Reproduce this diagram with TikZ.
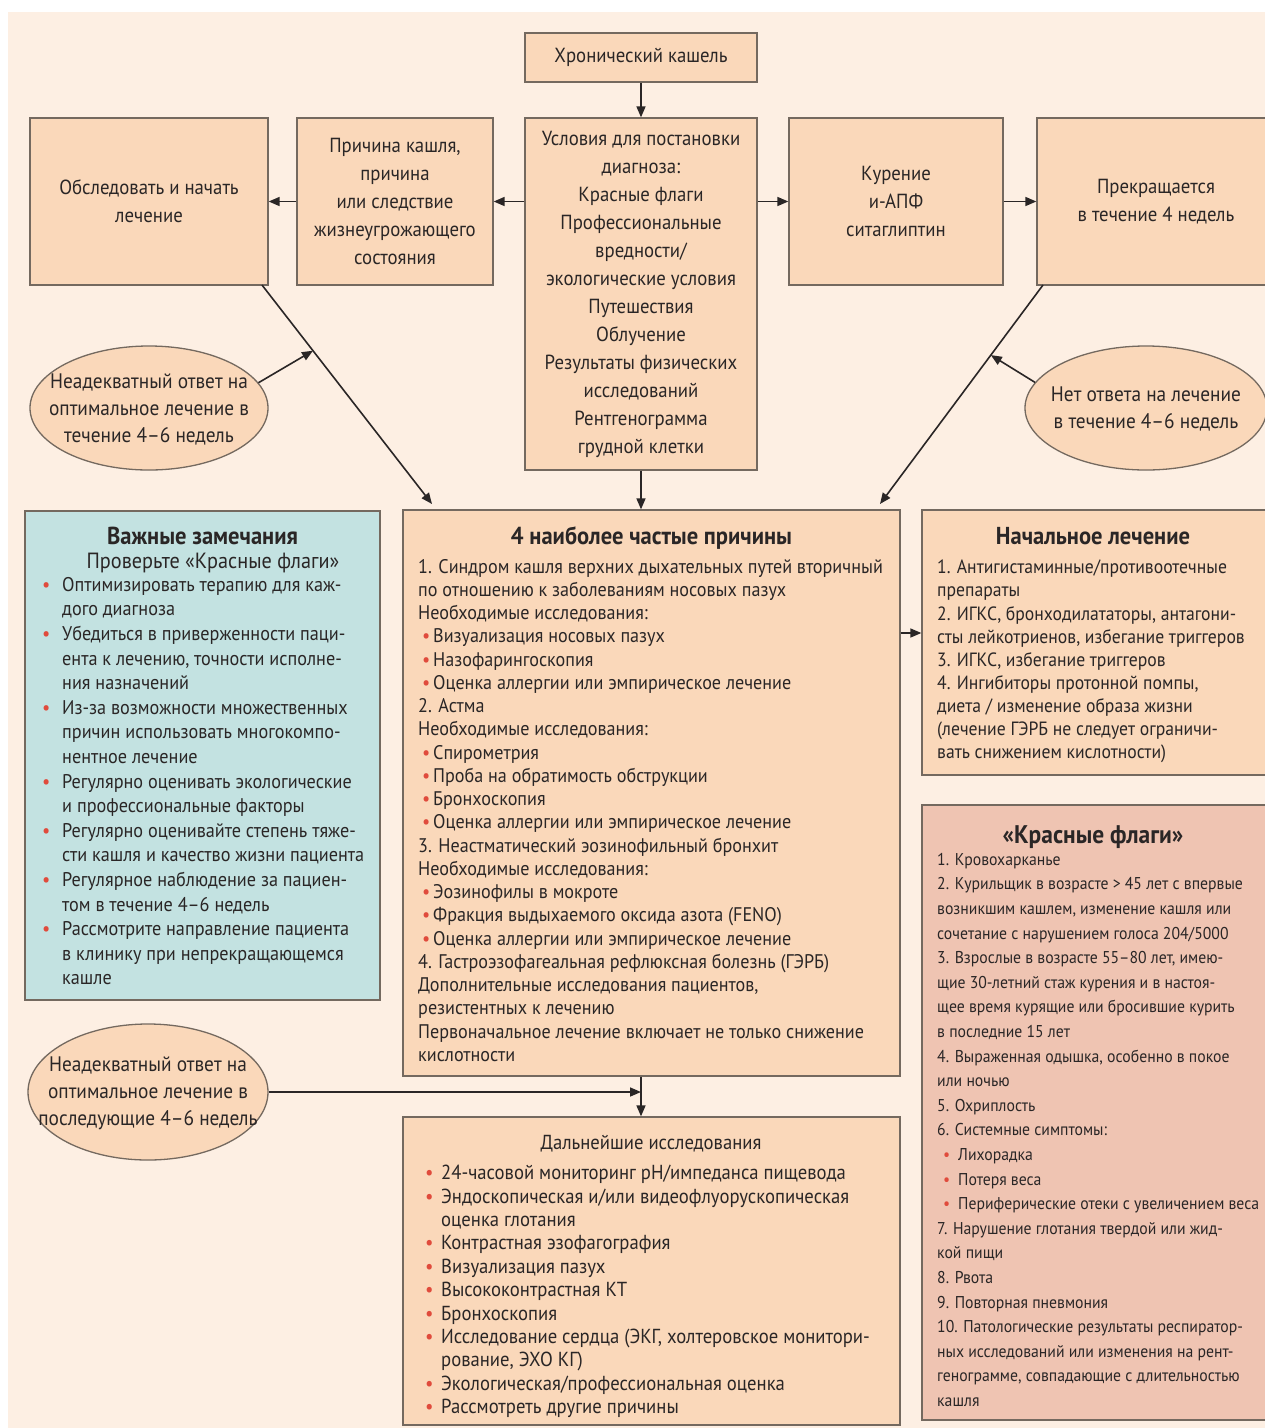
\documentclass[tikz,border=0pt]{standalone}
\usepackage{fontspec}
\setmainfont{PT Sans}[FakeStretch=0.92]
\usetikzlibrary{shapes.geometric,arrows.meta,calc}
\definecolor{bgc}{HTML}{FDEFE3}
\definecolor{boxfill}{HTML}{FAD8BA}
\definecolor{tealbox}{HTML}{C3E2E1}
\definecolor{pinkbox}{HTML}{EFC4B2}
\definecolor{edgec}{HTML}{74695F}
\definecolor{ink}{HTML}{2A2626}
\definecolor{bulred}{HTML}{E04B3C}
\newcommand{\redbul}[2]{\makebox[#1][l]{\hspace{#2}\textcolor{bulred}{•}}}
\newcommand{\indbox}[1]{\makebox[#1][l]{}}
\begin{document}
\begin{tikzpicture}[x=1pt,y=-1pt,
  box/.style={draw=edgec, line width=1.3pt, fill=boxfill, rectangle, inner sep=0pt, text=ink},
  ell/.style={draw=edgec, line width=1.3pt, fill=boxfill, ellipse, inner sep=0pt},
  elltext/.style={inner sep=0pt, text=ink, align=center, font=\fontsize{21}{27}\selectfont},
  topfont/.style={font=\fontsize{20.4}{28}\selectfont, align=center},
  body/.style={inner sep=0pt, anchor=north west, align=left, text=ink},
  ttl/.style={inner sep=0pt, anchor=base, text=ink, font=\fontsize{24.5}{26}\selectfont\bfseries},
  arr/.style={draw=ink, line width=1.6pt, -{Triangle[length=11pt,width=9pt]}}]
\useasboundingbox (0,0) rectangle (1265,1428);
\fill[bgc] (8,12) rectangle (1270,1430);
% top row
\node[box, topfont, minimum width=232pt, minimum height=49pt] (hk) at (641,57.5) {Хронический кашель};
\node[box, topfont, minimum width=238pt, minimum height=167pt] (obsl) at (149,201.5) {Обследовать и начать\\лечение};
\node[box, topfont, minimum width=196pt, minimum height=167pt] (prich) at (395,201.5) {Причина кашля,\\причина\\или следствие\\жизнеугрожающего\\состояния};
\node[box, topfont, minimum width=232pt, minimum height=352pt] (usl) at (641,294) {Условия для постановки\\диагноза:\\Красные флаги\\Профессиональные\\вредности/\\экологические условия\\Путешествия\\Облучение\\Результаты физических\\исследований\\Рентгенограмма\\грудной клетки};
\node[box, topfont, minimum width=214pt, minimum height=167pt] (kur) at (896,201.5) {Курение\\и-АПФ\\ситаглиптин};
\node[box, topfont, minimum width=238pt, minimum height=167pt] (prek) at (1156,201.5) {Прекращается\\в течение 4 недель};
% ellipses
\node[ell, minimum width=238pt, minimum height=124pt] (el1) at (149,408) {};
\node[elltext] (el1t) at (149,409) {Неадекватный ответ на\\оптимальное лечение в\\течение 4–6 недель};
\node[ell, minimum width=242pt, minimum height=124pt] (el2) at (1146,408) {};
\node[elltext] (el2t) at (1146,409) {Нет ответа на лечение\\в течение 4–6 недель};
\node[ell, minimum width=240pt, minimum height=136pt] (el3) at (148,1092) {};
\node[elltext] (el3t) at (148,1093) {Неадекватный ответ на\\оптимальное лечение в\\последующие 4–6 недель};
% big boxes
\node[box, fill=tealbox, minimum width=355pt, minimum height=489pt] (vazh) at (202.5,755.5) {};
\node[box, minimum width=497pt, minimum height=566pt] (p4) at (651.5,793) {};
\node[box, minimum width=346pt, minimum height=265pt] (nach) at (1095,642.5) {};
\node[box, fill=pinkbox, minimum width=346pt, minimum height=615pt] (flags) at (1095,1112.5) {};
\node[box, minimum width=497pt, minimum height=308pt] (dal) at (651.5,1271) {};
% Важные замечания
\node[ttl] (vazhT) at (202.5,544) {Важные замечания};
\node[inner sep=0pt, anchor=base, text=ink, font=\fontsize{22}{24}\selectfont] (vazhS) at (213,568) {Проверьте «Красные флаги»};
\node[body, font=\fontsize{19.8}{24.6}\selectfont] (vazhB) at (38,577) {%
\redbul{24pt}{4pt}Оптимизировать терапию для каж-\\
\indbox{24pt}дого диагноза\\
\redbul{24pt}{4pt}Убедиться в приверженности паци-\\
\indbox{24pt}ента к лечению, точности исполне-\\
\indbox{24pt}ния назначений\\
\redbul{24pt}{4pt}Из-за возможности множественных\\
\indbox{24pt}причин использовать многокомпо-\\
\indbox{24pt}нентное лечение\\
\redbul{24pt}{4pt}Регулярно оценивать экологические\\
\indbox{24pt}и профессиональные факторы\\
\redbul{24pt}{4pt}Регулярно оценивайте степень тяже-\\
\indbox{24pt}сти кашля и качество жизни пациента\\
\redbul{24pt}{4pt}Регулярное наблюдение за пациен-\\
\indbox{24pt}том в течение 4–6 недель\\
\redbul{24pt}{4pt}Рассмотрите направление пациента\\
\indbox{24pt}в клинику при непрекращающемся\\
\indbox{24pt}кашле};
% 4 наиболее частые причины
\node[ttl] (p4T) at (651.5,544) {4 наиболее частые причины};
\node[body, font=\fontsize{19.7}{23.24}\selectfont] (p4B) at (418,559) {%
1. Синдром кашля верхних дыхательных путей вторичный\\
по отношению к заболеваниям носовых пазух\\
Необходимые исследования:\\
\redbul{15pt}{4pt}Визуализация носовых пазух\\
\redbul{15pt}{4pt}Назофарингоскопия\\
\redbul{15pt}{4pt}Оценка аллергии или эмпирическое лечение\\
2. Астма\\
Необходимые исследования:\\
\redbul{15pt}{4pt}Спирометрия\\
\redbul{15pt}{4pt}Проба на обратимость обструкции\\
\redbul{15pt}{4pt}Бронхоскопия\\
\redbul{15pt}{4pt}Оценка аллергии или эмпирическое лечение\\
3. Неастматический эозинофильный бронхит\\
Необходимые исследования:\\
\redbul{15pt}{4pt}Эозинофилы в мокроте\\
\redbul{15pt}{4pt}Фракция выдыхаемого оксида азота (FENO)\\
\redbul{15pt}{4pt}Оценка аллергии или эмпирическое лечение\\
4. Гастроэзофагеальная рефлюксная болезнь (ГЭРБ)\\
Дополнительные исследования пациентов,\\
резистентных к лечению\\
Первоначальное лечение включает не только снижение\\
кислотности};
% Начальное лечение
\node[ttl] (nachT) at (1093,544) {Начальное лечение};
\node[body, font=\fontsize{19.2}{23.1}\selectfont] (nachB) at (937,560) {%
1. Антигистаминные/противоотечные\\
препараты\\
2. ИГКС, бронходилататоры, антагони-\\
сты лейкотриенов, избегание триггеров\\
3. ИГКС, избегание триггеров\\
4. Ингибиторы протонной помпы,\\
диета / изменение образа жизни\\
(лечение ГЭРБ не следует ограничи-\\
вать снижением кислотности)};
% Красные флаги
\node[ttl, font=\fontsize{25.5}{26}\selectfont\bfseries] (flagsT) at (1093,843) {«Красные флаги»};
\node[body, font=\fontsize{17.1}{24.6}\selectfont] (flagsB) at (937,853) {%
1. Кровохарканье\\
2. Курильщик в возрасте > 45 лет с впервые\\
возникшим кашлем, изменение кашля или\\
сочетание с нарушением голоса 204/5000\\
3. Взрослые в возрасте 55–80 лет, имею-\\
щие 30-летний стаж курения и в настоя-\\
щее время курящие или бросившие курить\\
в последние 15 лет\\
4. Выраженная одышка, особенно в покое\\
или ночью\\
5. Охриплость\\
6. Системные симптомы:\\
\redbul{21pt}{6pt}Лихорадка\\
\redbul{21pt}{6pt}Потеря веса\\
\redbul{21pt}{6pt}Периферические отеки с увеличением веса\\
7. Нарушение глотания твердой или жид-\\
кой пищи\\
8. Рвота\\
9. Повторная пневмония\\
10. Патологические результаты респиратор-\\
ных исследований или изменения на рент-\\
генограмме, совпадающие с длительностью\\
кашля};
% Дальнейшие исследования
\node[inner sep=0pt, anchor=base, text=ink, font=\fontsize{20.3}{24}\selectfont] (dalT) at (651,1149) {Дальнейшие исследования};
\node[body, font=\fontsize{20.3}{23.4}\selectfont] (dalB) at (424,1165) {%
\redbul{17pt}{1pt}24-часовой мониторинг pH/импеданса пищевода\\
\redbul{17pt}{1pt}Эндоскопическая и/или видеофлуорускопическая\\
\indbox{17pt}оценка глотания\\
\redbul{17pt}{1pt}Контрастная эзофагография\\
\redbul{17pt}{1pt}Визуализация пазух\\
\redbul{17pt}{1pt}Высококонтрастная КТ\\
\redbul{17pt}{1pt}Бронхоскопия\\
\redbul{17pt}{1pt}Исследование сердца (ЭКГ, холтеровское монитори-\\
\indbox{17pt}рование, ЭХО КГ)\\
\redbul{17pt}{1pt}Экологическая/профессиональная оценка\\
\redbul{17pt}{1pt}Рассмотреть другие причины};
% connectors
\draw[arr] (hk.south) -- (usl.north);
\draw[arr] (usl.west |- prich.east) -- (prich.east);
\draw[arr] (prich.west) -- (obsl.east);
\draw[arr] (usl.east |- kur.west) -- (kur.west);
\draw[arr] (kur.east) -- (prek.west);
\coordinate (d1s) at (262,285);
\coordinate (d1e) at (432,504);
\coordinate (d2s) at (1043,285);
\coordinate (d2e) at (880,504);
\draw[arr] (d1s) -- (d1e);
\draw[arr] (d2s) -- (d2e);
\draw[arr] (el1.13) -- ($(d1s)!0.3!(d1e)$);
\draw[arr] (el2.167) -- ($(d2s)!0.32!(d2e)$);
\draw[arr] (usl.south) -- (usl.south |- p4.north);
\coordinate (rowy) at (0,633);
\draw[arr] (p4.east |- rowy) -- (nach.west |- rowy);
\coordinate (junc) at (641,1092);
\draw[arr] (el3.east) -- (junc);
\draw[arr] (p4.south -| hk) -- (dal.north -| hk);
\end{tikzpicture}
\end{document}
